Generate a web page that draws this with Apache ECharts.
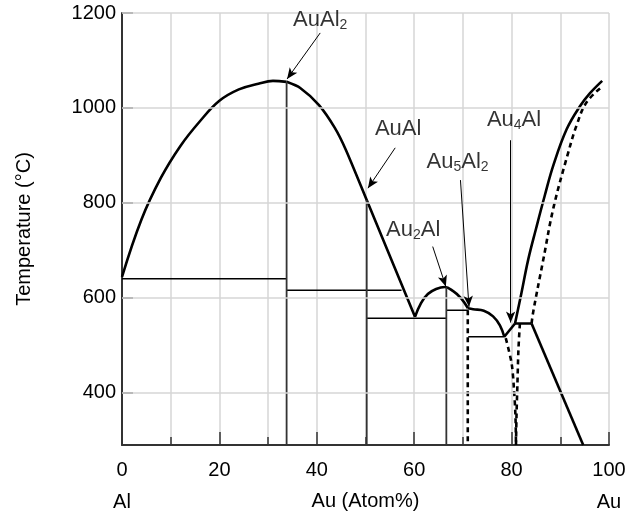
<!DOCTYPE html>
<html><head><meta charset="utf-8">
<script src="https://cdn.jsdelivr.net/npm/echarts@6/dist/echarts.min.js"></script>
<style>html,body{margin:0;padding:0;background:#fff}#c{width:629px;height:520px}</style>
</head><body><div id="c"></div>
<script>
// ---- axis / tick data ----
const yTickValues = [400, 600, 800, 1000, 1200];
const xEndNames = {0: 'Al', 100: 'Au'};

// ---- phase boundary curves [Au atom%, °C] ----
const liquidusAl = [[0,644],[4,765],[8,853],[12,920],[16,972],[20,1015],[24,1039],[28,1051],[31,1057],[33.8,1055]];
const liquidusAuAl2 = [[33.8,1055],[36.6,1042],[40.45,1006],[43.7,958],[46.0,911],[50.25,806],[60.16,560]];
const domeAu2Al = [[60.16,560],[61.4,589],[62.8,608],[64.5,618.5],[66.3,622.7],[68.0,614],[69.6,599.5],[71.05,578]];
const curveAu5Al2 = [[71.05,578],[72.1,576],[74.3,573],[76.2,561],[77.6,542],[78.5,518]];
const vAu4Al = [[78.5,518],[80.7,546]];
const plateau = [[80.7,546],[84.1,546]];
const liquidusAu = [[80.7,546],[82.0,609],[83.4,680],[85.0,745],[86.8,815],[88.6,880],[91.3,955],[94.0,1003],[96.1,1031],[98.6,1057]];
const solidusAu = [[84.1,546],[84.5,574],[86.5,680],[88.6,790],[91.6,905],[93.4,965],[95.4,1012],[98.5,1044]];
const solvusAu = [[84.1,546],[94.7,290]];
const dashAu5Al2 = [[71.0,574],[71.0,290]];
const dashLeft80 = [[78.8,515],[80.0,462],[80.5,406],[80.8,349],[80.9,290]];
const dashRight80 = [[81.7,546],[81.4,490],[81.2,420],[81.0,349],[80.9,290]];

// ---- invariant lines and compound lines ----
const hLine640 = [[0,640],[33.8,640]];
const hLine616 = [[33.8,616],[57.4,616]];
const hLine557 = [[50.25,557],[66.6,557]];
const hLine574 = [[66.6,574],[71.1,574]];
const hLine518 = [[71.1,518],[78.6,518]];
const vLineAuAl2 = [[33.8,1055],[33.8,290]];
const vLineAuAl = [[50.25,806],[50.25,290]];
const vLineAu2Al = [[66.6,622],[66.6,290]];

// ---- annotations ----
const phaseLabels = ['AuAl2', 'AuAl', 'Au2Al', 'Au5Al2', 'Au4Al'];
const labelPos = [[40.7,1185],[56.7,956],[59.8,743],[68.9,886],[80.5,975]];
const arrowFrom = [[40.7,1158],[56.1,916],[63.8,708],[69.5,848],[79.8,932]];
const arrowTo = [[33.9,1061],[50.5,831],[66.5,624],[71.25,581],[79.8,548]];

const FONT = '"Liberation Sans", Arial, Helvetica, sans-serif';
const chart = echarts.init(document.getElementById('c'), null, {renderer: 'canvas'});

function richFormula(s) {
  let out = '';
  const parts = s.match(/[A-Za-z]+|\d+/g);
  parts.forEach(t => { out += /\d/.test(t) ? '{s|' + t + '}' : '{b|' + t + '}'; });
  return out;
}

function lineSeries(data, opts) {
  opts = opts || {};
  return {
    type: 'line', data: data, showSymbol: false, symbol: 'none', silent: true,
    smooth: opts.smooth || false,
    lineStyle: {color: opts.color || '#000', width: opts.width || 2.6, type: opts.dash ? [5, 4] : 'solid', cap: 'butt'},
    z: opts.z || 3
  };
}

const series = [
  {
    type: 'line', data: [], silent: true, z: 1,
    markLine: {
      silent: true, symbol: 'none', label: {show: false},
      lineStyle: {color: '#d6d6d6', width: 1.5, type: 'solid'},
      data: yTickValues.map(v => ({yAxis: v}))
    }
  },
  lineSeries(liquidusAl, {smooth: 0.4}),
  lineSeries(liquidusAuAl2, {smooth: 0.25}),
  lineSeries(domeAu2Al, {smooth: 0.4}),
  lineSeries(curveAu5Al2, {smooth: 0.4}),
  lineSeries(vAu4Al),
  lineSeries(plateau),
  lineSeries(liquidusAu, {smooth: 0.4}),
  lineSeries(solidusAu, {smooth: 0.4, dash: true}),
  lineSeries(solvusAu),
  lineSeries(dashAu5Al2, {dash: true}),
  lineSeries(dashLeft80, {dash: true, smooth: 0.3}),
  lineSeries(dashRight80, {dash: true, smooth: 0.3}),
  lineSeries(hLine640, {width: 1.5}),
  lineSeries(hLine616, {width: 1.5}),
  lineSeries(hLine557, {width: 1.5}),
  lineSeries(hLine574, {width: 1.5}),
  lineSeries(hLine518, {width: 1.5}),
  lineSeries(vLineAuAl2, {width: 1.8, color: '#333'}),
  lineSeries(vLineAuAl, {width: 1.8, color: '#333'}),
  lineSeries(vLineAu2Al, {width: 1.8, color: '#333'}),
  {
    type: 'scatter', symbolSize: 0, silent: true, z: 5,
    data: labelPos,
    label: {
      show: true, position: 'inside',
      formatter: p => richFormula(phaseLabels[p.dataIndex]),
      rich: {
        b: {fontSize: 22, fontFamily: FONT, color: '#000'},
        s: {fontSize: 14, fontFamily: FONT, color: '#000', padding: [10, 0, 0, 0]}
      }
    },
    markLine: {
      silent: true, symbol: ['none', 'arrow'], symbolSize: [7, 11],
      label: {show: false},
      lineStyle: {color: '#000', width: 1, type: 'solid'},
      data: arrowFrom.map((p, i) => [{coord: p}, {coord: arrowTo[i]}])
    }
  }
];

chart.setOption({
  animation: false,
  backgroundColor: '#fff',
  grid: {left: 122, right: 20, top: 13, bottom: 75, containLabel: false, outerBoundsMode: 'none'},
  xAxis: {
    type: 'value', min: 0, max: 100, interval: 20,
    name: 'Au (Atom%)', nameLocation: 'middle', nameGap: 46, nameMoveOverlap: false,
    nameTextStyle: {fontSize: 20, fontFamily: FONT, color: '#000'},
    axisLine: {show: true, onZero: false, lineStyle: {color: '#333', width: 2}},
    axisTick: {show: true, inside: true, length: 13, lineStyle: {color: '#333', width: 1.5}},
    minorTick: {show: true, splitNumber: 2, length: 8, lineStyle: {color: '#333', width: 1.5}},
    splitLine: {show: true, lineStyle: {color: '#d6d6d6', width: 1.5}},
    minorSplitLine: {show: true, lineStyle: {color: '#d6d6d6', width: 1.5}},
    axisLabel: {
      fontSize: 20, fontFamily: FONT, color: '#000', margin: 9, lineHeight: 32,
      formatter: v => xEndNames[v] !== undefined ? v + '\n' + xEndNames[v] : String(v)
    }
  },
  yAxis: {
    type: 'value', min: 290, max: 1200,
    name: 'Temperature (°C)', nameLocation: 'middle', nameGap: 88,
    nameTextStyle: {fontSize: 20, fontFamily: FONT, color: '#000'},
    axisLine: {show: true, onZero: false, lineStyle: {color: '#333', width: 2}},
    axisTick: {show: true, inside: true, length: 11, customValues: yTickValues, lineStyle: {color: '#333', width: 1.5}},
    splitLine: {show: false},
    axisLabel: {fontSize: 20, fontFamily: FONT, color: '#000', margin: 6, customValues: yTickValues, formatter: v => String(v)}
  },
  series: series
});
</script>
</body></html>
